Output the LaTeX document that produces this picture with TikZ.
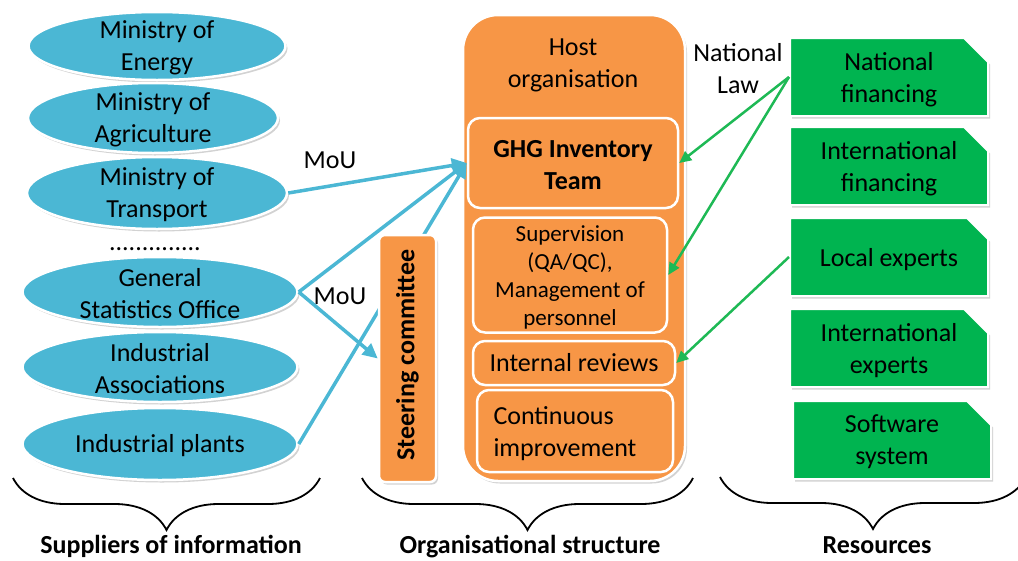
\documentclass[tikz,border=0pt]{standalone}
\usepackage{fontspec}
\setmainfont{Carlito}
\usetikzlibrary{shapes.geometric,shapes.misc,arrows.meta,shadows,decorations.pathreplacing}
\definecolor{supblue}{RGB}{75,183,212}
\definecolor{orgorange}{RGB}{247,150,70}
\definecolor{resgreen}{RGB}{0,180,80}
\definecolor{lawgreen}{RGB}{30,185,85}
% invisible strut on a first line, to sit the text a little lower in its box
\newcommand{\textdrop}[1]{\rule{0pt}{#1}}
\begin{document}
\begin{tikzpicture}[x=1pt,y=-1pt,
  every node/.style={font=\fontsize{26}{32}\selectfont, align=center, inner sep=0pt},
  every label/.style={yshift=-2pt},
  softshadow/.style={drop shadow={shadow xshift=2pt, shadow yshift=-2.5pt, opacity=0.25, fill=black!70}},
  supplier/.style={ellipse, fill=supblue, draw=white, line width=2.5pt, softshadow},
  orgbox/.style={rectangle, rounded corners=12pt, fill=orgorange, draw=white, line width=2.5pt},
  resbox/.style={chamfered rectangle, chamfered rectangle corners=north east,
    chamfered rectangle xsep=12pt, chamfered rectangle ysep=12pt,
    fill=resgreen, draw=white, line width=2pt, softshadow, text depth=-16pt,
    minimum width=198pt, minimum height=78pt},
  bluelink/.style={draw=supblue, line width=3.5pt, -{Triangle[length=15pt,width=14pt]}},
  greenlink/.style={draw=lawgreen, line width=2.5pt, -{Triangle[length=12pt,width=11pt]}},
  groupbrace/.style={draw=black, line width=1.8pt, decorate, decoration={brace, amplitude=52pt}},
  grouptitle/.style={font=\fontsize{26}{32}\selectfont\bfseries, anchor=base}
]
\useasboundingbox (0,0) rectangle (1018,560);
\clip (0,0) rectangle (1018,560);

% Suppliers of information
\node[supplier, minimum width=257pt, minimum height=68pt,
      label={center:{Ministry of\\Energy}}] (energy) at (157,46) {};
\node[supplier, minimum width=250pt, minimum height=70pt,
      label={center:{Ministry of\\Agriculture}}] (agri) at (153,118) {};
\node[supplier, minimum width=260pt, minimum height=72pt,
      label={center:{Ministry of\\Transport}}] (transport) at (157,193) {};
\node[anchor=base] (dots) at (155,250) {..............};
\node[supplier, minimum width=275pt, minimum height=70pt,
      label={center:{General\\Statistics Office}}] (gso) at (160,292) {};
\node[supplier, minimum width=275pt, minimum height=70pt,
      label={center:{Industrial\\Associations}}] (assoc) at (160,367) {};
\node[supplier, minimum width=275pt, minimum height=72pt,
      label={center:{Industrial plants}}] (plants) at (160,444) {};

% Organisational structure
\node[rectangle, rounded corners=35pt, fill=orgorange, draw=white, line width=2.5pt,
      softshadow, minimum width=222pt, minimum height=466pt] (host) at (574,248) {};
\node (hosttitle) at (573,65) {Host\\organisation};
\node[orgbox, minimum width=210pt, minimum height=90pt,
      font=\fontsize{26}{32}\selectfont\bfseries]
      (ghg) at (573,163) {\textdrop{22pt}GHG Inventory\\Team};
\node[orgbox, minimum width=194pt, minimum height=115pt,
      font=\fontsize{23}{28}\selectfont]
      (sup) at (570,275) {\textdrop{21pt}Supervision\\(QA/QC),\\Management of\\personnel};
\node[orgbox, minimum width=202pt, minimum height=44pt] (reviews) at (574,363) {Internal reviews};
\node[orgbox, minimum width=196pt, minimum height=82pt, text width=163pt, align=left]
      (improve) at (575,431) {\textdrop{23pt}Continuous\\improvement};

% Resources
\node[resbox] (natfin) at (889,77) {National\\financing};
\node[resbox] (intfin) at (889,166) {International\\financing};
\node[resbox, text depth=-4pt] (local) at (889,257) {Local experts};
\node[resbox] (intexp) at (889,348) {International\\experts};
\node[resbox] (software) at (892,440) {Software\\system};

% Data flow that runs behind the steering committee
\draw[bluelink] (plants.east) -- (ghg.west);

\node[rectangle, rounded corners=6pt, fill=orgorange, draw=white, line width=2.5pt,
      softshadow, rotate=90, minimum width=247pt, minimum height=57pt,
      font=\fontsize{26}{32}\selectfont\bfseries] (steer) at (407.5,358.5)
      {\hspace*{7pt}Steering committee};

% Agreements with the inventory team
\draw[bluelink] (transport.east) -- (ghg.west);
\draw[bluelink] (gso.east) -- (ghg.west);
\draw[bluelink] (gso.east) -- (steer.north);
\node (mou1) at (330,160) {MoU};
\node (mou2) at (340,296) {MoU};

% Legal and resource links
\draw[greenlink] (natfin.west) -- (ghg.east);
\draw[greenlink] (natfin.west) -- (sup.east);
\draw[greenlink] (local.west) -- (reviews.east);
\node (law) at (738,69) {National\\Law};

% Group braces and titles
\draw[groupbrace] (320,478) -- (13,478);
\draw[groupbrace] (693,478) -- (362,478);
\draw[groupbrace] (1026,477) -- (720,477);
\node[grouptitle] (suppliers) at (171,553) {Suppliers of information};
\node[grouptitle] (orgstruct) at (530,553) {Organisational structure};
\node[grouptitle] (resources) at (877,553) {Resources};
\end{tikzpicture}
\end{document}
